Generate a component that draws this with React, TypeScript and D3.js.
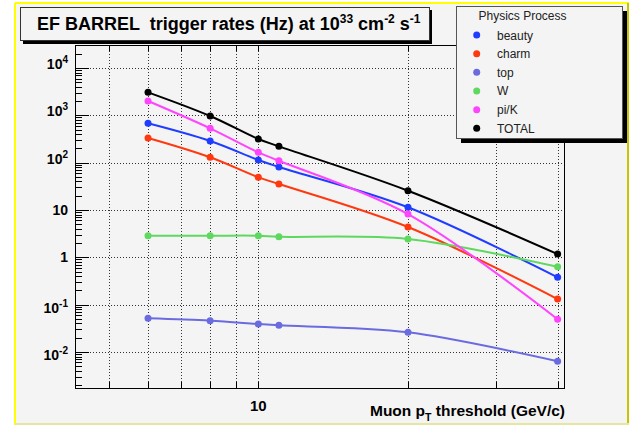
import React from 'react';
import * as d3 from 'd3';

// muon pT thresholds (GeV/c) and EF barrel rates (Hz) per physics process
const ptThresholds = [6, 8, 10, 11, 20, 40];
const beautyRates = [678, 287, 114, 81, 11.4, 0.378];
const charmRates = [332, 130, 49, 35.4, 4.37, 0.131];
const topRates = [0.0514, 0.0458, 0.039, 0.0366, 0.026, 0.00635];
const wRates = [2.86, 2.86, 2.86, 2.72, 2.44, 0.63];
const piKRates = [2006, 531, 165, 110, 8.2, 0.049];
const totalRates = [3060, 967, 316, 221, 25.5, 1.17];

const processNames = ['beauty', 'charm', 'top', 'W', 'pi/K', 'TOTAL'];
const processColors = ['#1f3dff', '#ff3810', '#6b6be0', '#5fd85f', '#ff44ff', '#000000'];
const yDecades = [-2, -1, 0, 1, 2, 3, 4];
const xTickValues = [5, 6, 7, 8, 9, 10, 20, 30, 40];
const xTickLabels = [10];

const FONT = '"Liberation Sans", Arial, Helvetica, sans-serif';

export default function App() {
  const W = 638, H = 425;
  const m = { left: 75, right: 564, top: 45, bottom: 388 };

  const x = d3.scaleLog().domain([4.278, 41.2]).range([m.left, m.right]);
  const y = d3.scaleLog().domain([Math.pow(10, -2.761), Math.pow(10, 4.486)]).range([m.bottom, m.top]);

  const series = [beautyRates, charmRates, topRates, wRates, piKRates, totalRates];

  const line = d3.line<number>()
    .x((d, i) => x(ptThresholds[i]))
    .y(d => y(d))
    .curve(d3.curveCatmullRom.alpha(0.5));

  // minor y ticks 2..9 in every decade that is inside the frame
  const yMinor: number[] = [];
  for (let e = -3; e <= 4; e++) {
    for (let k = 2; k <= 9; k++) {
      const v = k * Math.pow(10, e);
      if (y(v) >= m.top && y(v) <= m.bottom) yMinor.push(v);
    }
  }

  const expLabel = (e: number) => {
    if (e === 0) return <tspan>1</tspan>;
    if (e === 1) return <tspan>10</tspan>;
    return (
      <>
        <tspan>10</tspan>
        <tspan fontSize={10} dy={-6}>{e}</tspan>
      </>
    );
  };
  const labelShift = (e: number) => (e >= 2 ? 1 : e <= -1 ? 8 : 5);

  return (
    <svg width={W} height={H} style={{ position: 'absolute', left: 0, top: 0, display: 'block' }} fontFamily={FONT}>
      <rect x={0} y={0} width={W} height={H} fill="#ffffff" />
      <rect x={15} y={3} width={613} height={421} fill="#f4f4f4" />
      {/* canvas bevel */}
      <line x1={15} y1={3} x2={15} y2={425} stroke="#ffff00" strokeWidth={2} />
      <line x1={15} y1={3} x2={629} y2={3} stroke="#ffff00" strokeWidth={2} />
      <line x1={628} y1={3} x2={628} y2={425} stroke="#c8c400" strokeWidth={2} />
      <line x1={15} y1={424} x2={629} y2={424} stroke="#e6e6a0" strokeWidth={2} />

      {/* grid */}
      <g stroke="#333" strokeWidth={1} strokeDasharray="1 2">
        {yDecades.map(e => (
          <line key={'gy' + e} x1={m.left} x2={m.right} y1={Math.round(y(Math.pow(10, e))) + 0.5} y2={Math.round(y(Math.pow(10, e))) + 0.5} />
        ))}
        {xTickValues.map(v => (
          <line key={'gx' + v} y1={m.top} y2={m.bottom} x1={Math.round(x(v)) + 0.5} x2={Math.round(x(v)) + 0.5} />
        ))}
      </g>

      {/* frame */}
      <rect x={m.left + 0.5} y={m.top + 0.5} width={m.right - m.left} height={m.bottom - m.top} fill="none" stroke="#000" strokeWidth={1} />

      {/* ticks */}
      <g stroke="#000" strokeWidth={1}>
        {yDecades.map(e => {
          const yy = Math.round(y(Math.pow(10, e))) + 0.5;
          return <line key={'ty' + e} x1={m.left} x2={m.left + 14} y1={yy} y2={yy} />;
        })}
        {yMinor.map((v, i) => {
          const yy = Math.round(y(v)) + 0.5;
          return <line key={'tmy' + i} x1={m.left} x2={m.left + 7} y1={yy} y2={yy} />;
        })}
        {xTickValues.map(v => {
          const xx = Math.round(x(v)) + 0.5;
          return (
            <g key={'tx' + v}>
              <line x1={xx} x2={xx} y1={m.bottom} y2={m.bottom - 6} />
              <line x1={xx} x2={xx} y1={m.top} y2={m.top + 6} />
            </g>
          );
        })}
      </g>

      {/* y labels */}
      <g fontWeight="bold" fontSize={14} fill="#000" textAnchor="end">
        {yDecades.map(e => (
          <text key={'ly' + e} x={68} y={y(Math.pow(10, e)) + labelShift(e)}>{expLabel(e)}</text>
        ))}
      </g>

      {/* x labels */}
      <g fontWeight="bold" fontSize={15} fill="#000" textAnchor="middle">
        {xTickLabels.map(v => (
          <text key={'lx' + v} x={x(v)} y={411}>{v}</text>
        ))}
      </g>
      <text x={565} y={416} textAnchor="end" fontWeight="bold" fontSize={15.5} style={{ whiteSpace: 'pre' }}>
        <tspan>Muon p</tspan>
        <tspan fontSize={10.5} dy={5}>T</tspan>
        <tspan dy={-5}> threshold (GeV/c)</tspan>
      </text>

      {/* curves */}
      {series.map((s, i) => (
        <g key={'s' + i}>
          <path d={line(s) || ''} fill="none" stroke={processColors[i]} strokeWidth={2} />
          {s.map((v, j) => (
            <circle key={j} cx={x(ptThresholds[j])} cy={y(v)} r={3.5} fill={processColors[i]} />
          ))}
        </g>
      ))}

      {/* title box */}
      <rect x={23} y={10} width={409} height={34} fill="#000" />
      <rect x={20.5} y={7.5} width={409} height={33} fill="#f4f4f4" stroke="#333" strokeWidth={1} />
      <text x={37} y={29.5} fontWeight="bold" fontSize={18} style={{ whiteSpace: 'pre' }}>
        <tspan>EF BARREL  trigger rates (Hz) at 10</tspan>
        <tspan fontSize={12} dy={-7}>33</tspan>
        <tspan dy={7}> cm</tspan>
        <tspan fontSize={12} dy={-7}>-2</tspan>
        <tspan dy={7}> s</tspan>
        <tspan fontSize={12} dy={-7}>-1</tspan>
      </text>

      {/* legend */}
      <rect x={461} y={11} width={166} height={132} fill="#000" />
      <rect x={456.5} y={6.5} width={166} height={132} fill="#f4f4f4" stroke="#555" strokeWidth={1} />
      <text x={522.5} y={20} textAnchor="middle" fontSize={12} fill="#222">Physics Process</text>
      {processNames.map((name, i) => {
        const cy = 35 + i * 18.66;
        return (
          <g key={'lg' + i}>
            <circle cx={476.7} cy={cy} r={3.5} fill={processColors[i]} />
            <text x={497} y={cy + 4.5} fontSize={12} fill="#222">{name}</text>
          </g>
        );
      })}
    </svg>
  );
}
